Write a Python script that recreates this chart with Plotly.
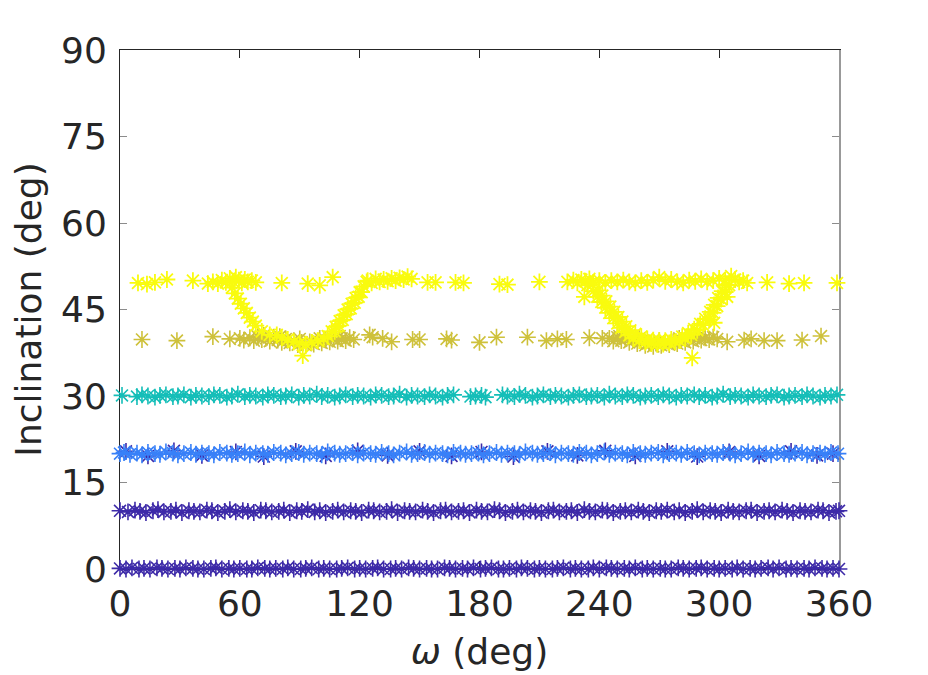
import plotly.graph_objects as go

# ---------------- data ----------------
# band near i = 0 deg (purple)
b0_x = [0, 3, 6, 9.5, 12, 15, 18.5, 21, 24, 27.5,
        30, 33, 36.5, 39, 42, 45.5, 48, 51, 54.5, 57,
        60, 63.5, 66, 69, 72.5, 75, 78, 81.5, 84, 87,
        90.5, 93, 96, 99.5, 102, 105, 108.5, 111, 114, 117.5,
        120, 123, 126.5, 129, 132, 135.5, 138, 141, 144.5, 147,
        150, 153.5, 156, 159, 162.5, 165, 168, 171.5, 174, 177,
        180.5, 183, 186, 189.5, 192, 195, 198.5, 201, 204, 207.5,
        210, 213, 216.5, 219, 222, 225.5, 228, 231, 234.5, 237,
        240, 243.5, 246, 249, 252.5, 255, 258, 261.5, 264, 267,
        270.5, 273, 276, 279.5, 282, 285, 288.5, 291, 294, 297.5,
        300, 303, 306.5, 309, 312, 315.5, 318, 321, 324.5, 327,
        330, 333.5, 336, 339, 342.5, 345, 348, 351.5, 354, 357,
        360]
b0_y = [0.1, 0.0, 0.2, 0.0, 0.1, 0.0, 0.2, 0.1, 0.0, 0.1,
        0.0, 0.2, 0.1, 0.0, 0.0, 0.1, 0.2, 0.0, 0.1, 0.0,
        0.1, 0.0, 0.0, 0.2, 0.1, 0.0, 0.1, 0.0, 0.2, 0.0,
        0.0, 0.1, 0.2, 0.0, 0.1, 0.0, 0.0, 0.1, 0.2, 0.0,
        0.1, 0.0, 0.1, 0.2, 0.0, 0.0, 0.1, 0.0, 0.2, 0.1,
        0.0, 0.1, 0.0, 0.0, 0.2, 0.1, 0.0, 0.1, 0.0, 0.2,
        0.0, 0.1, 0.2, 0.0, 0.0, 0.1, 0.0, 0.2, 0.1, 0.0,
        0.1, 0.0, 0.0, 0.1, 0.2, 0.0, 0.1, 0.0, 0.0, 0.2,
        0.0, 0.2, 0.1, 0.0, 0.1, 0.0, 0.2, 0.0, 0.1, 0.0,
        0.1, 0.0, 0.0, 0.2, 0.1, 0.0, 0.1, 0.2, 0.0, 0.1,
        0.0, 0.1, 0.0, 0.2, 0.0, 0.1, 0.0, 0.1, 0.2, 0.0,
        0.2, 0.0, 0.1, 0.0, 0.1, 0.0, 0.2, 0.1, 0.0, 0.1,
        0.0]

# band near i = 10 deg (purple)
b10_x = [0, 4, 7.5, 10, 13, 16.5, 19, 22, 25.5, 28,
         31, 34.5, 37, 40, 43.5, 46, 49, 52.5, 55, 58,
         61.5, 64, 67, 70.5, 73, 76, 79.5, 82, 85, 88.5,
         91, 94, 97.5, 100, 103, 106.5, 109, 112, 115.5, 118,
         121, 124.5, 127, 130, 133.5, 136, 139, 142.5, 145, 148,
         151.5, 154, 157, 160.5, 163, 166, 169.5, 172, 175, 178.5,
         181, 184, 187.5, 190, 193, 196.5, 199, 202, 205.5, 208,
         211, 214.5, 217, 220, 223.5, 226, 229, 232.5, 235, 238,
         241.5, 244, 247, 250.5, 253, 256, 259.5, 262, 265, 268.5,
         271, 274, 277.5, 280, 283, 286.5, 289, 292, 295.5, 298,
         301, 304.5, 307, 310, 313.5, 316, 319, 322.5, 325, 328,
         331.5, 334, 337, 340.5, 343, 346, 349.5, 352, 355, 358.5,
         360]
b10_y = [10.1, 9.9, 10.2, 10.0, 9.8, 10.1, 10.3, 9.9, 10.0, 10.2,
         9.8, 10.1, 10.0, 9.9, 10.2, 10.1, 9.8, 10.0, 10.3, 9.9,
         10.1, 10.0, 9.8, 10.2, 10.1, 9.9, 10.0, 10.2, 9.8, 10.1,
         10.0, 10.3, 9.9, 10.1, 9.8, 10.0, 10.2, 9.9, 10.1, 10.0,
         9.8, 10.2, 10.1, 9.9, 10.0, 10.3, 9.8, 10.1, 10.0, 9.9,
         10.2, 10.0, 9.8, 10.1, 10.2, 9.9, 10.0, 10.1, 9.8, 10.2,
         10.0, 9.9, 10.3, 10.1, 9.8, 10.0, 10.2, 9.9, 10.1, 10.0,
         9.8, 10.1, 10.2, 9.9, 10.0, 10.1, 9.8, 10.3, 10.0, 9.9,
         10.2, 10.1, 9.8, 10.0, 10.1, 9.9, 10.2, 10.0, 9.8, 10.1,
         10.0, 10.2, 9.9, 10.1, 9.8, 10.0, 10.3, 9.9, 10.1, 10.0,
         9.8, 10.2, 10.0, 9.9, 10.1, 10.2, 9.8, 10.0, 10.1, 9.9,
         10.2, 10.0, 9.8, 10.1, 10.0, 9.9, 10.2, 10.1, 9.8, 10.0,
         10.1]

# purple points mixed into the 20 deg band
p20_x = [3, 14, 27, 41, 58, 72, 88, 103, 119, 134, 150, 166, 181,
         197, 214, 229, 243, 258, 274, 289, 305, 320, 336, 349, 357]
p20_y = [20.4, 19.6, 20.5, 19.7, 20.3, 19.5, 20.4, 19.6, 20.5, 19.7,
         20.4, 19.6, 20.3, 19.5, 20.4, 19.7, 20.5, 19.6, 20.4, 19.5,
         20.3, 19.6, 20.4, 19.7, 20.0]

# band near i = 20 deg (blue)
b20_x = [0, 2, 5, 8.5, 11, 14, 17.5, 20, 23, 26.5,
         29, 32, 35.5, 38, 41, 44.5, 47, 50, 53.5, 56,
         59, 62.5, 65, 68, 71.5, 74, 77, 80.5, 83, 86,
         89.5, 92, 95, 98.5, 101, 104, 107.5, 110, 113, 116.5,
         119, 122, 125.5, 128, 131, 134.5, 137, 140, 143.5, 146,
         149, 152.5, 155, 158, 161.5, 164, 167, 170.5, 173, 176,
         179.5, 182, 185, 188.5, 191, 194, 197.5, 200, 203, 206.5,
         209, 212, 215.5, 218, 221, 224.5, 227, 230, 233.5, 236,
         239, 242.5, 245, 248, 251.5, 254, 257, 260.5, 263, 266,
         269.5, 272, 275, 278.5, 281, 284, 287.5, 290, 293, 296.5,
         299, 302, 305.5, 308, 311, 314.5, 317, 320, 323.5, 326,
         329, 332.5, 335, 338, 341.5, 344, 347, 350.5, 353, 356,
         359.5]
b20_y = [20.0, 20.2, 19.9, 20.1, 19.8, 20.2, 20.0, 19.9, 20.3, 20.1,
         19.8, 20.0, 20.2, 19.9, 20.1, 20.0, 19.8, 20.2, 20.1, 19.9,
         20.0, 20.3, 19.8, 20.1, 20.0, 19.9, 20.2, 20.1, 19.8, 20.0,
         20.2, 19.9, 20.1, 20.0, 19.8, 20.3, 20.1, 19.9, 20.0, 20.2,
         19.8, 20.1, 20.0, 19.9, 20.2, 20.0, 19.8, 20.1, 20.3, 19.9,
         20.0, 20.2, 19.9, 20.1, 20.0, 19.8, 20.2, 20.1, 19.9, 20.0,
         20.1, 19.8, 20.0, 20.2, 19.9, 20.1, 20.0, 19.8, 20.3, 20.1,
         19.9, 20.0, 20.2, 19.8, 20.1, 20.0, 19.9, 20.2, 20.1, 19.8,
         20.0, 20.3, 19.9, 20.1, 20.0, 19.8, 20.2, 20.0, 19.9, 20.1,
         20.2, 19.8, 20.0, 20.1, 19.9, 20.2, 20.0, 19.8, 20.1, 20.0,
         19.9, 20.2, 20.1, 19.8, 20.0, 20.3, 19.9, 20.1, 20.0, 19.8,
         20.2, 20.0, 19.9, 20.1, 20.2, 19.8, 20.0, 20.1, 19.9, 20.2,
         20.0]

# band near i = 30 deg (teal)
b30_x = [1, 8.5, 11, 14, 17.5, 20, 23, 26.5, 29, 32,
         35.5, 38, 41, 44.5, 47, 50, 53.5, 56, 59, 62.5,
         65, 68, 71.5, 74, 77, 80.5, 83, 86, 89.5, 92,
         95, 98.5, 101, 104, 107.5, 110, 113, 116.5, 119, 122,
         125.5, 128, 131, 134.5, 137, 140, 143.5, 146, 149, 152.5,
         155, 158, 161.5, 164, 167, 175.5, 178, 181, 183, 191.5,
         194, 197.5, 200, 203, 206.5, 209, 212, 215.5, 218, 221,
         224.5, 227, 230, 233.5, 236, 239, 242.5, 245, 248, 251.5,
         254, 257, 260.5, 263, 266, 269.5, 272, 275, 278.5, 281,
         284, 287.5, 290, 293, 296.5, 299, 302, 305.5, 308, 311,
         314.5, 317, 320, 323.5, 326, 329, 332.5, 335, 338, 341.5,
         344, 347, 350.5, 353, 356, 359]
b30_y = [30.1, 29.9, 30.2, 30.0, 29.8, 30.1, 30.2, 29.9, 30.0, 30.2,
         29.8, 30.1, 30.0, 29.9, 30.2, 30.1, 29.8, 30.0, 30.3, 29.9,
         30.1, 30.0, 29.8, 30.2, 30.1, 29.9, 30.0, 30.2, 29.8, 30.1,
         30.0, 30.3, 29.9, 30.1, 29.8, 30.0, 30.2, 29.9, 30.1, 30.0,
         29.8, 30.2, 30.1, 29.9, 30.0, 30.3, 29.8, 30.1, 30.0, 29.9,
         30.2, 30.0, 29.8, 30.1, 30.2, 29.9, 30.0, 30.1, 29.8, 30.2,
         30.0, 29.9, 30.3, 30.1, 29.8, 30.0, 30.2, 29.9, 30.1, 30.0,
         29.8, 30.1, 30.2, 29.9, 30.0, 30.1, 29.8, 30.3, 30.0, 29.9,
         30.2, 30.1, 29.8, 30.0, 30.1, 29.9, 30.2, 30.0, 29.8, 30.1,
         30.0, 30.2, 29.9, 30.1, 29.8, 30.0, 30.3, 29.9, 30.1, 30.0,
         29.8, 30.2, 30.0, 29.9, 30.1, 30.2, 29.8, 30.0, 30.1, 29.9,
         30.2, 30.0, 29.8, 30.1, 30.0, 30.2]

# band near i = 40 deg (olive)
b40_x = [11, 28.5, 46.5, 55, 60, 62,
         65, 67, 69, 71, 73, 75, 77, 79, 81, 83, 85, 87, 89, 91, 93, 95,
         97, 99, 101, 103, 105, 107, 109, 111, 113, 115, 117,
         72, 80, 90, 100, 110,
         125, 126.5, 131.5, 136, 146.5, 150, 163.5, 166, 180, 188.5,
         204, 213.5, 219, 223.5, 235, 241.5,
         245, 247, 249, 251, 253, 255, 257, 259, 261, 263, 265, 267, 269,
         271, 273, 275, 277, 279, 281, 283, 285, 287, 289, 291, 293, 295,
         297, 299,
         250, 260, 270, 280, 290,
         304, 312.5, 316, 322.5, 329, 341.5, 351]
b40_y = [39.8, 39.6, 40.3, 39.9, 40.0, 39.7,
         40.1, 39.6, 40.3, 39.8, 40.0, 39.5, 40.2, 39.7, 39.3, 39.9, 39.2,
         39.6, 38.9, 39.3, 38.8, 39.4, 39.0, 39.5, 39.2, 39.7, 39.4, 39.9,
         39.5, 40.0, 39.6, 40.1, 39.8,
         40.5, 40.3, 39.9, 40.0, 40.4,
         40.6, 40.2, 40.0, 39.4, 39.8, 39.8, 39.9, 39.7, 39.3, 40.2,
         40.2, 39.6, 39.9, 39.8, 40.1, 40.0,
         40.0, 39.5, 40.2, 39.6, 39.9, 39.3, 39.8, 39.1, 39.5, 38.8, 39.2,
         38.6, 39.0, 38.8, 39.3, 38.9, 39.4, 39.1, 39.6, 39.3, 39.8, 39.5,
         40.0, 39.7, 40.1, 39.8, 40.2, 39.9,
         40.4, 40.0, 39.6, 40.0, 40.4,
         39.4, 39.7, 39.9, 39.6, 39.6, 39.7, 40.4]

# band near i = 50 deg (yellow), with the two loops
b50_x = [9, 13.5, 17.5, 23.5, 36.5, 44,
         46.5, 49, 51, 53, 55, 56.5, 58, 59.5, 61, 62.5, 64, 66, 68,
         56, 57.5, 59, 60.5, 62, 63.5, 65, 66.5, 68, 71, 75,
         78.5, 81, 84, 87, 90, 93, 96, 99, 102, 104,
         106, 108, 110, 112, 114, 116, 118, 120, 122, 123.5,
         107.5, 109.5, 111.5, 113.5, 115.5, 117.5, 119.5, 121,
         124, 126, 128, 130, 132, 134, 136, 138, 140, 142, 144, 146,
         81, 94, 100, 106.5, 154, 158, 168, 172, 190, 194, 210,
         91.5,
         224, 227, 229, 231, 233, 235, 237, 240, 243, 246, 249, 252, 255,
         258, 261, 264, 267, 270, 273, 276, 279, 282, 285, 288, 291, 294,
         297, 300, 303, 306, 308, 310, 312, 314,
         234, 237, 239, 241, 243, 245, 247, 249, 251, 253, 255, 257, 260,
         263, 266, 269, 272, 275, 278,
         236.5, 239.5, 241.5, 243.5, 245.5, 247.5, 249.5, 251.5, 253.5,
         255.5, 258, 261, 264, 267, 270, 273, 276,
         280, 283, 286, 289, 292, 295, 297, 299, 301, 303, 305,
         281.5, 284.5, 287.5, 290.5, 293, 295.5, 297.5, 299.5, 301.5, 303.5,
         232.5, 304, 297.5, 286.5,
         324, 335, 342.5, 359]
b50_y = [49.6, 49.4, 49.7, 50.2, 50.0, 49.5,
         49.8, 49.5, 50.1, 49.7, 50.4, 49.9, 50.6, 50.1, 49.6, 50.2, 49.8, 50.0, 49.7,
         48.8, 47.8, 46.9, 46.0, 45.2, 44.4, 43.6, 42.9, 42.2, 41.2, 40.6,
         40.6, 40.1, 39.8, 39.4, 39.2, 39.0, 39.3, 39.6, 39.9, 40.4,
         41.2, 42.0, 43.0, 44.0, 45.0, 46.0, 47.0, 48.0, 49.0, 49.8,
         41.2, 42.2, 43.2, 44.2, 45.2, 46.2, 47.2, 48.0,
         50.0, 49.6, 50.3, 49.8, 50.2, 49.9, 50.4, 50.0, 50.5, 50.2, 50.7, 50.3,
         49.6, 49.5, 49.2, 50.6, 49.7, 49.7, 49.7, 49.6, 49.4, 49.3, 49.8,
         37.0,
         49.8, 50.1, 49.6, 50.2, 49.9, 50.3, 49.7, 50.0, 49.7, 50.0, 49.8, 50.1, 49.8,
         49.6, 50.0, 49.7, 50.1, 50.6, 49.9, 50.2, 49.8, 49.6, 50.1, 49.9, 50.3, 49.8,
         50.0, 50.4, 50.1, 50.8, 50.2, 49.8, 50.0, 49.6,
         49.2, 48.2, 47.2, 46.3, 45.3, 44.4, 43.5, 42.6, 41.8, 41.1, 40.5, 40.0, 39.6,
         39.3, 39.1, 39.0, 39.0, 39.2, 39.4,
         49.3, 48.3, 47.4, 46.4, 45.5, 44.6, 43.7, 42.9, 42.1,
         41.4, 40.8, 40.3, 39.9, 39.7, 39.6, 39.6, 39.8,
         39.6, 40.0, 40.6, 41.4, 42.3, 43.3, 44.4, 45.6, 46.8, 48.0, 49.2,
         40.3, 40.9, 41.6, 42.5, 43.4, 44.6, 45.8, 47.0, 48.2, 49.3,
         47.2, 47.2, 42.7, 36.6,
         49.7, 49.5, 49.6, 49.6]

x_ticks = [0, 60, 120, 180, 240, 300, 360]
y_ticks = [0, 15, 30, 45, 60, 75, 90]

# ---------------- figure ----------------
PURPLE = "#3d2aa8"
BLUE = "#3880f8"
TEAL = "#14beb8"
OLIVE = "#c9bb26"
YELLOW = "#f9fb0e"
FONT = "DejaVu Sans"


def star(x, y, color, yaxis="y", opacity=1.0, size=14, width=1.6):
    return go.Scatter(
        x=x, y=y, mode="markers", yaxis=yaxis, cliponaxis=False,
        showlegend=False, hoverinfo="skip", opacity=opacity,
        marker=dict(symbol="asterisk-open", size=size, color=color,
                    line=dict(color=color, width=width)),
    )


fig = go.Figure()
fig.add_trace(star(b0_x, b0_y, PURPLE, yaxis="y2"))
fig.add_trace(star(b10_x, b10_y, PURPLE))
fig.add_trace(star(p20_x, p20_y, PURPLE))
fig.add_trace(star(b20_x, b20_y, BLUE))
fig.add_trace(star(b30_x, b30_y, TEAL))
fig.add_trace(star(b40_x, b40_y, OLIVE, opacity=0.9))
fig.add_trace(star(b50_x, b50_y, YELLOW, width=1.8))

fig.update_layout(
    width=928, height=675,
    margin=dict(l=112, r=97, t=42, b=114),
    paper_bgcolor="white", plot_bgcolor="white",
    font=dict(family=FONT, size=36, color="#262626"),
    showlegend=False,
    xaxis=dict(
        range=[0, 360], tickvals=x_ticks, ticktext=[str(v) for v in x_ticks],
        ticks="inside", ticklen=8, tickwidth=1, tickcolor="#262626",
        showline=True, linecolor="#262626", linewidth=1, mirror="ticks",
        showgrid=False, zeroline=False, layer="below traces",
        title=dict(text="<i>ω</i> (deg)", font=dict(size=36), standoff=15),
        tickfont=dict(size=36), ticklabelstandoff=3,
    ),
    yaxis=dict(
        range=[0, 90], tickvals=y_ticks, ticktext=[str(v) for v in y_ticks],
        ticks="inside", ticklen=7, tickwidth=1, tickcolor="#8c8c8c",
        showline=True, linecolor="#262626", linewidth=1,
        showgrid=False, zeroline=False, layer="below traces",
        title=dict(text="Inclination (deg)", font=dict(size=36), standoff=14),
        tickfont=dict(size=36), ticklabelstandoff=5,
    ),
    yaxis2=dict(
        range=[0, 90], tickvals=y_ticks, overlaying="y", side="right",
        ticks="inside", ticklen=7, tickwidth=1, tickcolor="#8c8c8c",
        showticklabels=False, showline=True, linecolor="#999999",
        linewidth=2, showgrid=False, zeroline=False, layer="below traces",
    ),
)

fig.write_html("out.html")
